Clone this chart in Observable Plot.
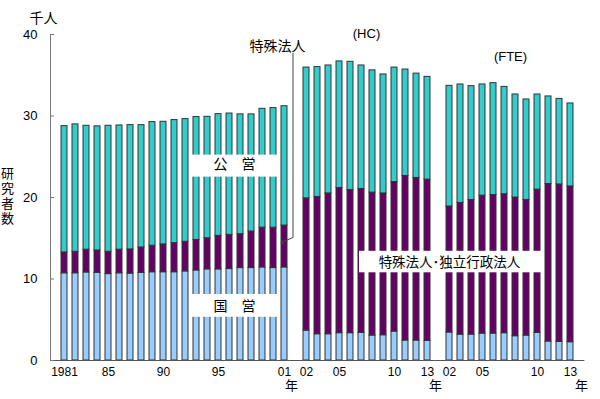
<!DOCTYPE html>
<html><head><meta charset="utf-8">
<script src="https://cdn.jsdelivr.net/npm/d3@7"></script>
<script src="https://cdn.jsdelivr.net/npm/@observablehq/plot@0.6"></script>
<style>body{margin:0;background:#fff;} #chart svg{display:block;}</style>
</head><body><div id="chart"></div>
<script>
// Categories (slot keys along x)
const keysA = ["1981","1982","1983","1984","1985","1986","1987","1988","1989","1990","1991","1992","1993","1994","1995","1996","1997","1998","1999","2000","2001"];
const keysHC = ["H02","H03","H04","H05","H06","H07","H08","H09","H10","H11","H12","H13"];
const keysFTE = ["F02","F03","F04","F05","F06","F07","F08","F09","F10","F11","F12","F13"];
const gapKeys = ["gapA","gapB"];

// Series values (thousand persons)
const kokueiA  = [10.70,10.70,10.80,10.74,10.60,10.70,10.66,10.74,10.83,10.83,10.83,10.93,11.05,11.18,11.18,11.22,11.34,11.34,11.42,11.34,11.42];
const tokushuA = [2.56,2.64,2.80,2.76,2.74,2.90,2.97,3.13,3.25,3.41,3.57,3.64,3.75,3.82,4.12,4.20,4.16,4.49,4.88,4.96,5.14];
const koueiA   = [15.50,15.63,15.20,15.23,15.46,15.24,15.25,15.01,15.17,15.05,15.10,15.05,15.07,14.90,14.93,14.88,14.70,14.37,14.58,14.67,14.64];

const kokueiHC  = [3.67,3.22,3.22,3.35,3.35,3.39,3.06,3.10,3.55,2.45,2.45,2.41];
const dokuHC    = [16.23,16.85,17.28,17.82,17.58,17.66,17.54,17.40,18.35,20.19,19.95,19.79];
const koueiHC   = [16.04,15.93,15.70,15.53,15.72,15.15,15.00,14.60,14.04,13.06,12.80,12.60];

const kokueiFTE = [3.43,3.18,3.18,3.30,3.30,3.35,2.98,3.06,3.39,2.33,2.29,2.24];
const dokuFTE   = [15.47,16.16,16.52,16.93,17.00,17.05,17.02,16.64,17.58,19.33,19.31,19.12];
const koueiFTE  = [14.80,14.53,13.96,13.64,13.73,13.17,12.64,12.33,11.67,10.74,10.50,10.18];

// Tick labels
const tickKeys   = ["1981","1985","1990","1995","2001","H02","H05","H10","H13","F02","F05","F10","F13"];
const tickLabels = ["1981","85","90","95","01","02","05","10","13","02","05","10","13"];
const yTicks = [0,10,20,30,40];

const seriesNames = ["国営","特殊法人","公営"];
const seriesColors = ["#99ccff","#660066","#33cccc"];

const domainX = [...keysA, gapKeys[0], ...keysHC, gapKeys[1], ...keysFTE];

const rows = [];
function addGroup(keys, a, b, c) {
  keys.forEach((k, i) => {
    rows.push({key: k, series: seriesNames[0], value: a[i]});
    rows.push({key: k, series: seriesNames[1], value: b[i]});
    rows.push({key: k, series: seriesNames[2], value: c[i]});
  });
}
addGroup(keysA, kokueiA, tokushuA, koueiA);
addGroup(keysHC, kokueiHC, dokuHC, koueiHC);
addGroup(keysFTE, kokueiFTE, dokuFTE, koueiFTE);

const labelOf = new Map(tickKeys.map((k, i) => [k, tickLabels[i]]));

// annotation box spans (category keys)
const box1Keys = keysA.slice(12, 20);            // 1993–2000
const box3Keys = [...keysHC.slice(6), gapKeys[1], ...keysFTE.slice(0, 9)];
const jp = "'Noto Sans CJK JP', sans-serif";

const leader = [
  {x: "gapA", y: 37.7},
  {x: "gapA", y: 15.1},
  {x: "2001", y: 14.5}
];

const yTitleChars = ["研","究","者","数"];
const yTitleOffsets = [-24, -9, 6, 21];

const chart = Plot.plot({
  width: 600,
  height: 399,
  marginLeft: 50,
  marginRight: 15.6,
  marginTop: 34,
  marginBottom: 39,
  style: {fontFamily: "'Liberation Sans', Arial, sans-serif", fontSize: "12px", color: "#000", background: "#fff"},
  x: {domain: domainX, type: "band", paddingInner: 0.47, paddingOuter: 0.174, axis: null},
  y: {domain: [0, 40], axis: null},
  color: {domain: seriesNames, range: seriesColors},
  marks: [
    Plot.barY(rows, {x: "key", y: "value", fill: "series", stroke: "#333", strokeWidth: 1, order: seriesNames}),
    // white label boxes
    Plot.barY(box1Keys, {x: d => d, y1: () => 22.5, y2: () => 25.2, fill: "white", insetLeft: -2.8, insetRight: -2.8}),
    Plot.barY(box1Keys, {x: d => d, y1: () => 5.3, y2: () => 8.1, fill: "white", insetLeft: -2.8, insetRight: -2.8}),
    Plot.barY(box3Keys, {x: d => d, y1: () => 10.76, y2: () => 13.4, fill: "white", insetLeft: -2.8, insetRight: -2.8}),
    Plot.barY([keysHC[5]], {x: d => d, y1: () => 10.76, y2: () => 13.4, fill: "white", insetLeft: 1, insetRight: -2.8}),
    Plot.text(["公　営"], {x: () => "1997", y: () => 24.0, dx: -6, text: d => d, fontFamily: jp, fontSize: 14}),
    Plot.text(["国　営"], {x: () => "1997", y: () => 6.6, dx: -6, text: d => d, fontFamily: jp, fontSize: 14}),
    Plot.text(["特殊法人･独立行政法人"], {x: () => "F02", y: () => 12.05, text: d => d, fontFamily: jp, fontSize: 13.5}),
    // leader for 特殊法人
    Plot.line(leader, {x: "x", y: "y", dx: -2.5, stroke: "#444", strokeWidth: 1, markerEnd: "arrow"}),
    Plot.text(["特殊法人"], {x: () => "2001", y: () => 38.5, dx: -7, text: d => d, fontFamily: jp, fontSize: 14}),
    Plot.text(["(HC)"], {x: () => "H07", y: () => 40.1, dx: 5, text: d => d, fontSize: 13}),
    Plot.text(["(FTE)"], {x: () => "F07", y: () => 37.2, dx: 6, text: d => d, fontSize: 13}),
    // axes
    Plot.ruleY([0], {stroke: "#555"}),
    Plot.frame({anchor: "left", stroke: "#777"}),
    Plot.axisY({ticks: yTicks, tickSize: -4, tickPadding: 17, fontSize: 13, stroke: "#777"}),
    Plot.axisX({ticks: tickKeys, tickFormat: d => labelOf.get(d), tickSize: 0, tickPadding: 7, fontSize: 12}),
    Plot.text(["年"], {x: () => "2001", frameAnchor: "bottom", dy: 29, dx: 7, text: d => d, fontFamily: jp, fontSize: 13}),
    Plot.text(["年"], {x: () => "H13", frameAnchor: "bottom", dy: 29, dx: 8, text: d => d, fontFamily: jp, fontSize: 13}),
    Plot.text(["年"], {x: () => "F13", frameAnchor: "bottom", dy: 29, dx: 11, text: d => d, fontFamily: jp, fontSize: 13}),
    Plot.text(["千人"], {frameAnchor: "top-left", textAnchor: "middle", dx: -7, dy: -21, text: d => d, fontFamily: jp, fontSize: 14}),
    ...yTitleChars.map((c, i) => Plot.text([c], {frameAnchor: "left", textAnchor: "middle", dx: -43, dy: yTitleOffsets[i], text: d => d, fontFamily: jp, fontSize: 13}))
  ]
});
document.getElementById("chart").appendChild(chart);
</script>
</body></html>
